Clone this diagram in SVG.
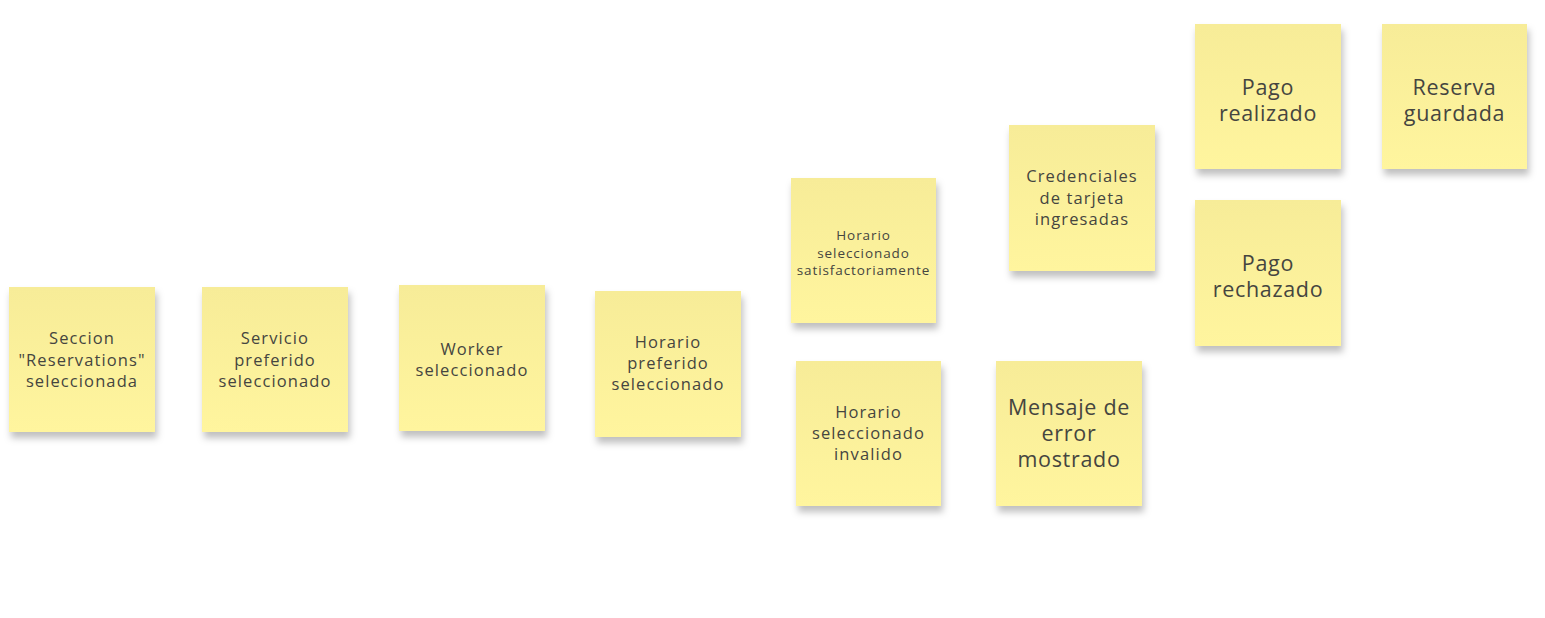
<svg xmlns="http://www.w3.org/2000/svg" width="1545" height="618" viewBox="0 0 1545 618">
<defs>
<linearGradient id="paper" x1="0" y1="0" x2="0" y2="1">
<stop offset="0" stop-color="#f7ec98"/>
<stop offset="1" stop-color="#fff59e"/>
</linearGradient>
<filter id="shadow" x="-20%" y="-20%" width="140%" height="150%">
<feDropShadow dx="2" dy="6" stdDeviation="3.5" flood-color="#000" flood-opacity="0.25"/>
</filter>
</defs>
<style>
.note rect{fill:url(#paper);filter:url(#shadow);}
.note text{font-family:"Open Sans","DejaVu Sans",sans-serif;fill:#454540;text-anchor:middle;dominant-baseline:central;}
.m{font-size:16.5px;letter-spacing:1.1px;}
.s{font-size:13.5px;letter-spacing:0.9px;}
.l{font-size:21.5px;letter-spacing:0.7px;}
</style>
<rect width="1545" height="618" fill="#ffffff"/>
<g id="connectors"></g>
<g id="n1" class="note"><rect x="9" y="287" width="146" height="145"/>
<text class="m" x="82" y="337">Seccion</text><text class="m" x="82" y="359">"Reservations"</text><text class="m" x="82" y="380">seleccionada</text></g>
<g id="n2" class="note"><rect x="202" y="287" width="146" height="145"/>
<text class="m" x="275" y="337">Servicio</text><text class="m" x="275" y="359">preferido</text><text class="m" x="275" y="380">seleccionado</text></g>
<g id="n3" class="note"><rect x="399" y="285" width="146" height="146"/>
<text class="m" x="472" y="348">Worker</text><text class="m" x="472" y="369">seleccionado</text></g>
<g id="n4" class="note"><rect x="595" y="291" width="146" height="146"/>
<text class="m" x="668" y="341">Horario</text><text class="m" x="668" y="362">preferido</text><text class="m" x="668" y="383">seleccionado</text></g>
<g id="n5" class="note"><rect x="791" y="178" width="145" height="145"/>
<text class="s" x="863.5" y="235">Horario</text><text class="s" x="863.5" y="253">seleccionado</text><text class="s" x="863.5" y="270">satisfactoriamente</text></g>
<g id="n6" class="note"><rect x="796" y="361" width="145" height="145"/>
<text class="m" x="868.5" y="411">Horario</text><text class="m" x="868.5" y="432">seleccionado</text><text class="m" x="868.5" y="453">invalido</text></g>
<g id="n7" class="note"><rect x="1009" y="125" width="146" height="146"/>
<text class="m" x="1082" y="175">Credenciales</text><text class="m" x="1082" y="197">de tarjeta</text><text class="m" x="1082" y="218">ingresadas</text></g>
<g id="n8" class="note"><rect x="996" y="361" width="146" height="145"/>
<text class="l" x="1069" y="406">Mensaje de</text><text class="l" x="1069" y="432">error</text><text class="l" x="1069" y="458">mostrado</text></g>
<g id="n9" class="note"><rect x="1195" y="24" width="146" height="145"/>
<text class="l" x="1268" y="86">Pago</text><text class="l" x="1268" y="112">realizado</text></g>
<g id="n10" class="note"><rect x="1382" y="24" width="145" height="145"/>
<text class="l" x="1454.5" y="86">Reserva</text><text class="l" x="1454.5" y="112">guardada</text></g>
<g id="n11" class="note"><rect x="1195" y="200" width="146" height="146"/>
<text class="l" x="1268" y="262">Pago</text><text class="l" x="1268" y="288">rechazado</text></g>
</svg>
